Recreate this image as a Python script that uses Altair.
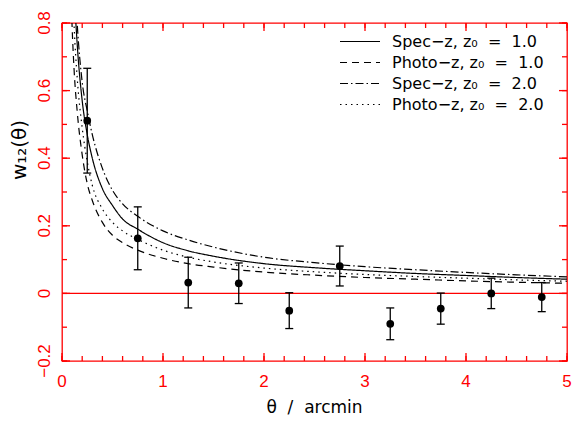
import altair as alt
import pandas as pd

# Measured cross-correlation w12(theta) with 1-sigma errors
theta_obs = [0.25, 0.75, 1.25, 1.75, 2.25, 2.75, 3.25, 3.75, 4.25, 4.75]
w_obs = [0.511, 0.163, 0.032, 0.030, -0.051, 0.081, -0.090, -0.045, 0.000, -0.011]
w_err = [0.155, 0.093, 0.075, 0.060, 0.053, 0.059, 0.047, 0.046, 0.045, 0.043]

# Model predictions on a common angular grid (arcmin)
theta_grid = [0.09, 0.1, 0.12, 0.15, 0.2, 0.25, 0.3, 0.4, 0.5, 0.6, 0.75,
              1.0, 1.25, 1.5, 2.0, 2.5, 3.0, 3.5, 4.0, 4.5, 5.0]
w_spec_1 = [1.15, 1.05, 0.90, 0.74, 0.57, 0.47, 0.40, 0.31, 0.26, 0.22, 0.19,
            0.15, 0.126, 0.11, 0.088, 0.076, 0.067, 0.059, 0.053, 0.047, 0.042]
w_photo_1 = [0.88, 0.79, 0.66, 0.54, 0.41, 0.325, 0.275, 0.21, 0.172, 0.15, 0.128,
             0.104, 0.088, 0.078, 0.063, 0.054, 0.047, 0.042, 0.037, 0.033, 0.030]
w_spec_2 = [1.25, 1.15, 0.97, 0.80, 0.625, 0.54, 0.47, 0.37, 0.305, 0.265, 0.228,
            0.185, 0.158, 0.137, 0.107, 0.091, 0.079, 0.070, 0.062, 0.055, 0.049]
w_photo_2 = [1.05, 0.95, 0.79, 0.64, 0.49, 0.39, 0.32, 0.25, 0.21, 0.185, 0.16,
             0.128, 0.107, 0.093, 0.075, 0.064, 0.056, 0.050, 0.045, 0.040, 0.036]

NB = "\u00a0"
series_names = [f"Spec−z, z₀{NB} ={NB} 1.0", f"Photo−z, z₀{NB} ={NB} 1.0",
                f"Spec−z, z₀{NB} ={NB} 2.0", f"Photo−z, z₀{NB} ={NB} 2.0"]
series_values = [w_spec_1, w_photo_1, w_spec_2, w_photo_2]
series_dash = [[1, 0], [7, 5], [8, 3, 1.5, 3], [1.5, 4]]

# axis ticks and their labels
x_major = [0, 1, 2, 3, 4, 5]
x_labels = ["0", "1", "2", "3", "4", "5"]
x_minor = [round(i * 0.2, 1) for i in range(26)]
y_major = [-0.2, 0.0, 0.2, 0.4, 0.6, 0.8]
y_labels = ["−0.2", "0", "0.2", "0.4", "0.6", "0.8"]
y_minor = [round(-0.2 + i * 0.1, 1) for i in range(11)]
x_title = f"θ{NB} /{NB} arcmin"
y_title = "w₁₂(θ)"

X_LO, X_HI = 0.0, 5.0
Y_LO, Y_HI = -0.2, 0.8
W, H = 505, 338
MAJOR_LEN, MINOR_LEN = 8, 5   # tick lengths in pixels

obs = pd.DataFrame({
    "theta": theta_obs,
    "w": w_obs,
    "lo": [w - e for w, e in zip(w_obs, w_err)],
    "hi": [w + e for w, e in zip(w_obs, w_err)],
})
curves = pd.DataFrame([
    {"series": name, "theta": t, "w": v}
    for name, vals in zip(series_names, series_values)
    for t, v in zip(theta_grid, vals)
])

# inward frame ticks on all four edges: two-point segments in data units
dx = (X_HI - X_LO) / W
dy = (Y_HI - Y_LO) / H
seg_rows = []


def add_segment(x0, y0, x1, y1):
    sid = len(seg_rows) // 2
    seg_rows.append({"sid": sid, "k": 0, "tx": x0, "ty": y0})
    seg_rows.append({"sid": sid, "k": 1, "tx": x1, "ty": y1})


for vals, length in ((x_minor, MINOR_LEN), (x_major, MAJOR_LEN)):
    for t in vals:
        add_segment(t, Y_LO, t, Y_LO + length * dy)
        add_segment(t, Y_HI, t, Y_HI - length * dy)
for vals, length in ((y_minor, MINOR_LEN), (y_major, MAJOR_LEN)):
    for t in vals:
        add_segment(X_LO, t, X_LO + length * dx, t)
        add_segment(X_HI, t, X_HI - length * dx, t)
segments = pd.DataFrame(seg_rows)

RED = "#ff0000"
FONT = "Liberation Sans"
TFONT = "DejaVu Sans"
xs = alt.Scale(domain=[X_LO, X_HI], nice=False, zero=False)
ys = alt.Scale(domain=[Y_LO, Y_HI], nice=False, zero=False)

model_lines = alt.Chart(curves).mark_line(
    clip=True, color="black", strokeWidth=1.2, interpolate="monotone"
).encode(
    x=alt.X("theta:Q", scale=xs, axis=None),
    y=alt.Y("w:Q", scale=ys, axis=None),
    strokeDash=alt.StrokeDash(
        "series:N",
        scale=alt.Scale(domain=series_names, range=series_dash),
        legend=alt.Legend(
            orient="none", legendX=277, legendY=10, title=None,
            symbolType="stroke", symbolSize=1600, symbolStrokeColor="black",
            symbolStrokeWidth=1.2, labelFont=TFONT, labelFontSize=16,
            labelColor="black", labelOffset=11, clipHeight=17, rowPadding=4,
            padding=0, labelLimit=300)),
    order="theta:Q",
)

zero_line = alt.Chart(pd.DataFrame({"w": [0]})).mark_rule(
    color=RED, strokeWidth=1.3
).encode(y=alt.Y("w:Q", scale=ys, axis=None))

frame_ticks = alt.Chart(segments).mark_line(
    color=RED, strokeWidth=1.3, interpolate="linear"
).encode(
    x=alt.X("tx:Q", scale=xs, axis=None),
    y=alt.Y("ty:Q", scale=ys, axis=None),
    detail="sid:N",
    order="k:Q",
)

err_bars = alt.Chart(obs).mark_rule(color="black", strokeWidth=1.3).encode(
    x=alt.X("theta:Q", scale=xs, axis=None),
    y=alt.Y("lo:Q", scale=ys, axis=None),
    y2="hi:Q",
)
cap_lo = alt.Chart(obs).mark_tick(
    orient="horizontal", size=8, thickness=1.3, color="black", opacity=1
).encode(x=alt.X("theta:Q", scale=xs, axis=None),
         y=alt.Y("lo:Q", scale=ys, axis=None))
cap_hi = alt.Chart(obs).mark_tick(
    orient="horizontal", size=8, thickness=1.3, color="black", opacity=1
).encode(x=alt.X("theta:Q", scale=xs, axis=None),
         y=alt.Y("hi:Q", scale=ys, axis=None))
points = alt.Chart(obs).mark_circle(size=60, color="black", opacity=1).encode(
    x=alt.X("theta:Q", scale=xs, axis=None),
    y=alt.Y("w:Q", scale=ys, axis=None),
)

# tick labels (red) and axis titles (black)
x_tick_text = alt.Chart(pd.DataFrame({"xv": x_major, "s": x_labels})).mark_text(
    font=FONT, fontSize=17, color=RED, align="center", baseline="alphabetic"
).encode(x=alt.X("xv:Q", scale=xs, axis=None), y=alt.value(H + 26), text="s:N")

y_tick_text = alt.Chart(pd.DataFrame({"yv": y_major, "s": y_labels})).mark_text(
    font=FONT, fontSize=17, color=RED, align="center", baseline="alphabetic",
    angle=270
).encode(y=alt.Y("yv:Q", scale=ys, axis=None), x=alt.value(-12), text="s:N")

x_title_text = alt.Chart(pd.DataFrame({"s": [x_title]})).mark_text(
    font=TFONT, fontSize=17, color="black", align="center",
    baseline="alphabetic"
).encode(x=alt.value(W / 2), y=alt.value(H + 52), text="s:N")

y_title_text = alt.Chart(pd.DataFrame({"s": [y_title]})).mark_text(
    font=TFONT, fontSize=20, color="black", align="center", baseline="middle",
    angle=270
).encode(x=alt.value(-42), y=alt.value(127), text="s:N")

chart = alt.layer(
    model_lines, zero_line, frame_ticks, err_bars, cap_lo, cap_hi, points,
    x_tick_text, y_tick_text, x_title_text, y_title_text
).properties(
    width=W, height=H,
    padding={"left": 62, "top": 23, "right": 5, "bottom": 61},
    autosize=alt.AutoSizeParams(type="none"),
    background="white",
).configure_view(stroke=RED, strokeWidth=1.3)

chart.save("out.html", embed_options={"renderer": "svg", "actions": False})
